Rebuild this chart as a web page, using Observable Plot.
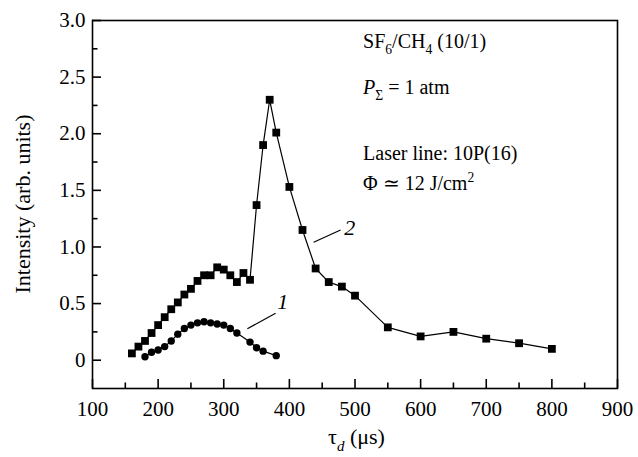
<!DOCTYPE html>
<html><head><meta charset="utf-8">
<script src="https://cdn.jsdelivr.net/npm/d3@7"></script>
<script src="https://cdn.jsdelivr.net/npm/@observablehq/plot@0.6"></script>
<style>body{margin:0;background:#fff} svg{display:block}</style>
</head><body><div id="chart"></div>
<script>
// Curve 2 (squares)
const delay2 = [160,170,180,190,200,210,220,230,240,250,260,270,280,290,300,310,320,330,340,350,360,370,380,400,420,440,460,480,500,550,600,650,700,750,800];
const intensity2 = [0.06,0.12,0.17,0.24,0.31,0.38,0.45,0.51,0.58,0.63,0.70,0.75,0.75,0.82,0.80,0.75,0.69,0.77,0.71,1.37,1.90,2.30,2.01,1.53,1.15,0.81,0.69,0.65,0.57,0.29,0.21,0.25,0.19,0.15,0.10];
// Curve 1 (circles)
const delay1 = [180,190,200,210,220,230,240,250,260,270,280,290,300,310,320,340,350,360,380];
const intensity1 = [0.03,0.07,0.09,0.12,0.17,0.23,0.28,0.31,0.33,0.34,0.33,0.32,0.31,0.28,0.24,0.16,0.11,0.08,0.04];
// ticks
const xMajor = [100,200,300,400,500,600,700,800,900];
const xMinor = [150,250,350,450,550,650,750,850];
const yMajor = [0,0.5,1.0,1.5,2.0,2.5,3.0];
const yMinor = [0.25,0.75,1.25,1.75,2.25,2.75];
// curve labels and leader lines (data units)
const curveNames = ["1","2"];
const curveLabelX = [390,492];
const curveLabelY = [0.515,1.17];
const leaderX1 = [336,437];
const leaderY1 = [0.277,1.042];
const leaderX2 = [379,478];
const leaderY2 = [0.415,1.15];
// axis titles
const xTitle = "τ";
const yTitle = "Intensity (arb. units)";
// annotation text block (anchor in data units)
const noteX = 513;
const noteY = [2.753,2.347,1.764,1.499];

const serie2 = delay2.map((x,i)=>({x, y:intensity2[i]}));
const serie1 = delay1.map((x,i)=>({x, y:intensity1[i]}));
const labels = curveNames.map((t,i)=>({t, x:curveLabelX[i], y:curveLabelY[i]}));
const leaders = leaderX1.map((x,i)=>({x1:x, y1:leaderY1[i], x2:leaderX2[i], y2:leaderY2[i]}));

const W = 638, H = 457, ML = 92, MR = 21, MT = 20, MB = 69;
const frameW = W - ML - MR, frameH = H - MT - MB;
const major = 9, minor = 5.5;

const FONT = "Liberation Serif, Times New Roman, serif";
const plot = Plot.plot({
  width: W, height: H,
  marginLeft: ML, marginRight: MR, marginTop: MT, marginBottom: MB,
  x: {domain: [100, 900]},
  y: {domain: [-0.25, 3.0]},
  style: {fontFamily: FONT, fontSize: "21px", color: "black", background: "white"},
  marks: [
    Plot.axisX({ticks: xMajor, tickSize: 0, tickPadding: 13, tickFormat: d => String(d), label: null, fontSize: 21}),
    Plot.axisY({ticks: yMajor, tickSize: 0, tickPadding: 7, tickFormat: d => d === 0 ? "0" : d.toFixed(1), label: null, fontSize: 21}),
    Plot.frame({stroke: "black", strokeWidth: 1.6}),
    Plot.ruleX(xMajor, {x: d => d, insetTop: frameH - major, stroke: "#000", strokeWidth: 1.6}),
    Plot.ruleX(xMinor, {x: d => d, insetTop: frameH - minor, stroke: "#000", strokeWidth: 1.6}),
    Plot.ruleY(yMajor, {y: d => d, insetRight: frameW - major, stroke: "#000", strokeWidth: 1.6}),
    Plot.ruleY(yMinor, {y: d => d, insetRight: frameW - minor, stroke: "#000", strokeWidth: 1.6}),
    Plot.line(serie2, {x: "x", y: "y", stroke: "black", strokeWidth: 1.2}),
    Plot.dot(serie2, {x: "x", y: "y", symbol: "square", r: 4.4, fill: "black"}),
    Plot.line(serie1, {x: "x", y: "y", stroke: "black", strokeWidth: 1.2}),
    Plot.dot(serie1, {x: "x", y: "y", symbol: "circle", r: 3.7, fill: "black"}),
    Plot.link(leaders, {x1: "x1", y1: "y1", x2: "x2", y2: "y2", stroke: "black", strokeWidth: 1.2}),
    Plot.text(labels, {x: "x", y: "y", text: "t", fontSize: 22, fontStyle: "italic", fill: "black"})
  ]
});
document.getElementById("chart").append(plot);

const svg = d3.select(plot);
const sx = plot.scale("x"), sy = plot.scale("y");
const g = svg.append("g").attr("font-family", FONT).attr("fill", "black").attr("text-anchor", "start");

function rich(x, y, parts, size, extra) {
  const t = g.append("text").attr("x", x).attr("y", y).attr("font-size", size).attr("text-anchor", "start");
  if (extra) extra(t);
  let shift = 0;
  for (const p of parts) {
    const target = p.sub ? 0.3 * size : p.sup ? -0.42 * size : 0;
    const ts = t.append("tspan").attr("dy", target - shift).text(p.t);
    shift = target;
    if (p.sub || p.sup) ts.attr("font-size", size * 0.68);
    if (p.italic) ts.attr("font-style", "italic");
  }
  return t;
}

const nx = sx.apply(noteX);
rich(nx, sy.apply(noteY[0]), [{t:"SF"},{t:"6",sub:true},{t:"/CH"},{t:"4",sub:true},{t:" (10/1)"}], 20);
rich(nx, sy.apply(noteY[1]), [{t:"P",italic:true},{t:"Σ",sub:true},{t:" = 1 atm"}], 20);
rich(nx, sy.apply(noteY[2]), [{t:"Laser line: 10P(16)"}], 20);
rich(nx, sy.apply(noteY[3]), [{t:"Φ ≃ 12 J/cm"},{t:"2",sup:true}], 20);

// axis titles
const cx = (sx.range[0] + sx.range[1]) / 2;
rich(cx + 2, 444, [{t:xTitle},{t:"d",sub:true,italic:true},{t:" (μs)"}], 22, t => t.attr("text-anchor","middle"));
const cy = (sy.range[0] + sy.range[1]) / 2;
g.append("text").attr("transform", `translate(30,${cy}) rotate(-90)`).attr("text-anchor","middle")
  .attr("font-size", 22).text(yTitle);
</script>
</body></html>
